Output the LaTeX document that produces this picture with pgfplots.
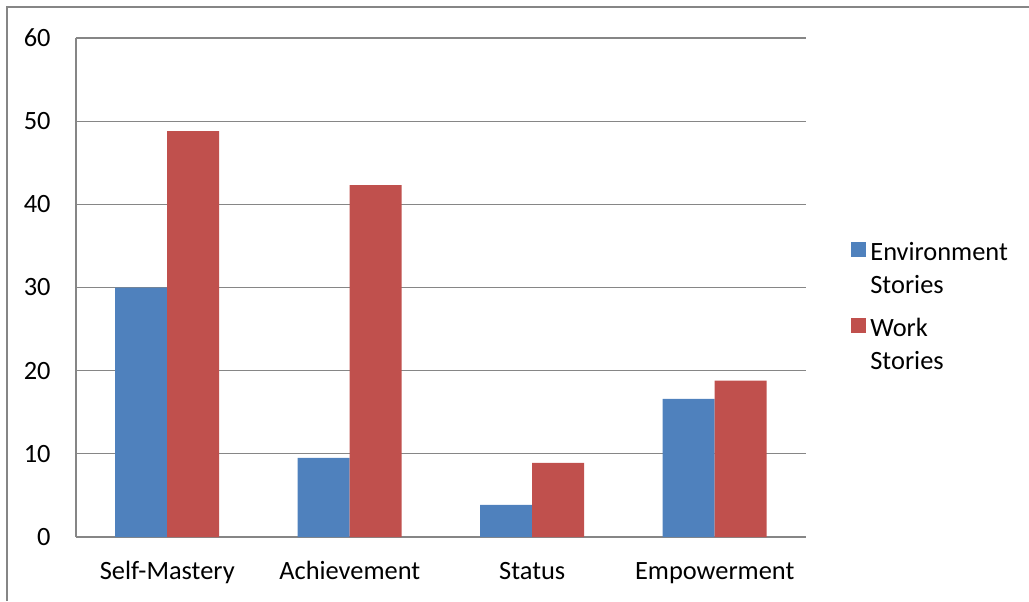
\documentclass[border=0pt]{standalone}
\usepackage{pgfplots}
\pgfplotsset{compat=1.18}
\usepackage{fontspec}
\setmainfont{Carlito}
\definecolor{xblue}{HTML}{4F81BD}
\definecolor{xred}{HTML}{C0504D}
\definecolor{xgray}{HTML}{868686}
\begin{document}
\begin{tikzpicture}
\path[use as bounding box] (0,0) rectangle (514.5pt,300.5pt);
\draw[xgray, line width=1pt] (3.5pt,0) -- (3.5pt,297pt) -- (514.5pt,297pt);
\begin{axis}[
  at={(38pt,32pt)}, anchor=south west,
  scale only axis, width=365pt, height=249.5pt,
  ybar=0pt, bar width=26pt,
  xmin=-0.5, xmax=3.5, ymin=0, ymax=60,
  xtick=data, xticklabels={Self-Mastery,Achievement,Status,Empowerment},
  ytick={0,10,...,60},
  major tick length=0pt,
  axis x line*=bottom, axis y line*=left,
  axis line style={draw=xgray, line width=0.8pt, -},
  ymajorgrids, grid style={draw=xgray, line width=0.6pt},
  font=\fontsize{13.2}{16.5}\selectfont,
  ticklabel style={font=\fontsize{13.2}{16.5}\selectfont},
  /pgf/number format/assume math mode=true,
  yticklabel style={inner sep=0pt, xshift=-12.5pt},
  xticklabel style={anchor=base, yshift=-21pt},
  legend style={draw=none, inner sep=0pt, at={(1.0616,0.6)}, anchor=north west,
    font=\fontsize{13.2}{16.5}\selectfont, row sep=7pt,
    cells={align=left, anchor=west}},
  legend image code/.code={\path[fill=none, draw=none] (0pt,-8pt) rectangle (7.5pt,13.5pt); \fill[#1] (0pt,6pt) rectangle (7.5pt,13.5pt);},
]
\addplot[fill=xblue, draw=none] coordinates {(0,30.0) (1,9.5) (2,3.85) (3,16.6)};
\addplot[fill=xred, draw=none] coordinates {(0,48.8) (1,42.3) (2,8.9) (3,18.8)};
\legend{Environment\\Stories, Work\\Stories}
\end{axis}
\end{tikzpicture}
\end{document}
